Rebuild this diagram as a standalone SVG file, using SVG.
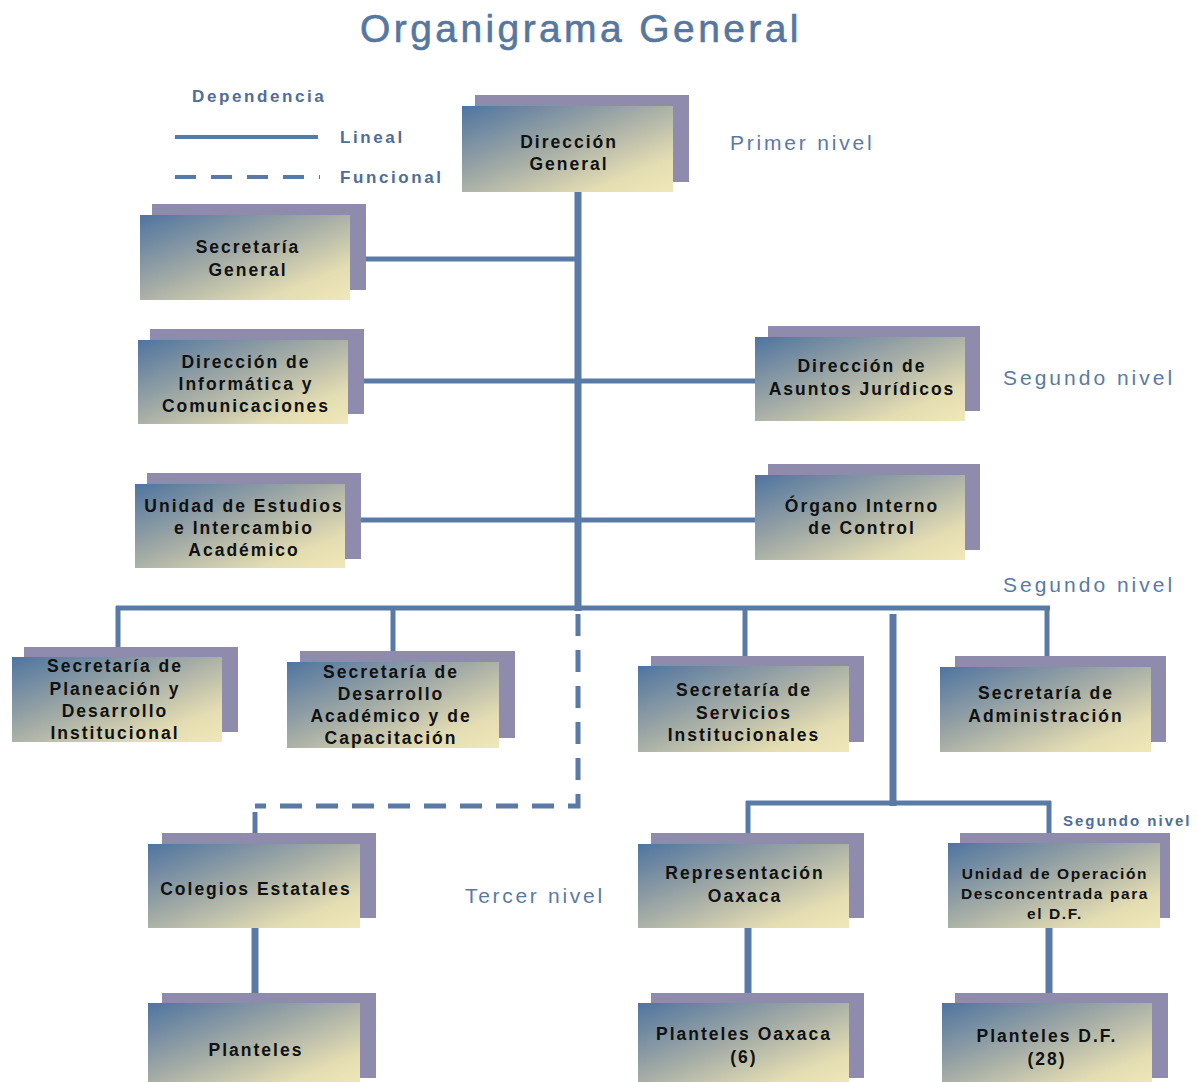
<svg xmlns="http://www.w3.org/2000/svg" width="1198" height="1082" viewBox="0 0 1198 1082">
<defs>
<linearGradient id="g" x1="0" y1="0" x2="1" y2="1">
<stop offset="0" stop-color="#4f74a0"/>
<stop offset="0.45" stop-color="#a3aba6"/>
<stop offset="0.8" stop-color="#e4ddb3"/>
<stop offset="1" stop-color="#f0e8b8"/>
</linearGradient>
<style>
.bk{fill:#8f8bad}
.fr{fill:url(#g)}
.t{font-family:"Liberation Sans",Arial,sans-serif;font-weight:bold;font-size:17.5px;letter-spacing:2px;fill:#111;text-anchor:middle}
.ts{font-size:15.5px;letter-spacing:1.6px}
.ln{stroke:#5a7aa6;stroke-width:5;fill:none}
.lv{stroke:#5a7aa6;stroke-width:7;fill:none}
.da{stroke:#5a7aa6;stroke-width:5;fill:none;stroke-dasharray:22 14}
.lvl{font-family:"Liberation Sans",Arial,sans-serif;font-size:21px;fill:#5a7aa4}
.lg{font-family:"Liberation Sans",Arial,sans-serif;font-weight:bold;font-size:17px;fill:#4f6d96;letter-spacing:2.6px}
</style>
</defs>
<rect width="1198" height="1082" fill="#ffffff"/>
<text x="581" y="42" font-family="Liberation Sans,Arial,sans-serif" font-size="39" letter-spacing="3.4" fill="#5577a0" stroke="#5577a0" stroke-width="0.6" text-anchor="middle">Organigrama General</text>

<g id="legend">
<text class="lg" x="192" y="102">Dependencia</text>
<line x1="175" y1="137" x2="318" y2="137" stroke="#5a7aa6" stroke-width="4"/>
<text class="lg" x="340" y="143">Lineal</text>
<line x1="175" y1="177" x2="320" y2="177" stroke="#5a7aa6" stroke-width="4" stroke-dasharray="21 15"/>
<text class="lg" x="340" y="183">Funcional</text>
</g>

<g id="levels">
<text class="lvl" x="730" y="150" letter-spacing="2.8">Primer nivel</text>
<text class="lvl" x="1003" y="385" letter-spacing="3">Segundo nivel</text>
<text class="lvl" x="1003" y="592" letter-spacing="3">Segundo nivel</text>
<text class="lvl" x="465" y="903" letter-spacing="2.7">Tercer nivel</text>
<text x="1063" y="826" font-family="Liberation Sans,Arial,sans-serif" font-weight="bold" font-size="15" letter-spacing="2" fill="#4f6d96">Segundo nivel</text>
</g>

<g id="connectors">
<line class="lv" x1="578" y1="192" x2="578" y2="611"/>
<line class="ln" x1="364" y1="259" x2="578" y2="259"/>
<line class="ln" x1="362" y1="381" x2="756" y2="381"/>
<line class="ln" x1="358" y1="520" x2="756" y2="520"/>
<line class="ln" x1="116" y1="608" x2="1050" y2="608"/>
<line class="ln" x1="118" y1="606" x2="118" y2="648"/>
<line class="ln" x1="393" y1="606" x2="393" y2="652"/>
<line class="ln" x1="745" y1="606" x2="745" y2="657"/>
<line class="ln" x1="1047" y1="606" x2="1047" y2="657"/>
<line class="lv" x1="893" y1="614" x2="893" y2="806"/>
<line class="ln" x1="746" y1="803" x2="1051" y2="803"/>
<line class="ln" x1="748" y1="801" x2="748" y2="834"/>
<line class="ln" x1="1049" y1="801" x2="1049" y2="834"/>
<path class="da" d="M578 614 L578 806 L255 806"/>
<line class="ln" x1="255" y1="812" x2="255" y2="834"/>
<line class="lv" x1="255" y1="928" x2="255" y2="994"/>
<line class="lv" x1="748" y1="928" x2="748" y2="994"/>
<line class="lv" x1="1049" y1="928" x2="1049" y2="994"/>
</g>

<g id="direccion-general">
<rect class="bk" x="475" y="95" width="214" height="87"/>
<rect class="fr" x="462" y="106" width="211" height="86"/>
<text class="t" x="569" y="148">Dirección</text>
<text class="t" x="569" y="170">General</text>
</g>

<g id="secretaria-general">
<rect class="bk" x="152" y="204" width="214" height="86"/>
<rect class="fr" x="140" y="215" width="210" height="85"/>
<text class="t" x="248" y="253">Secretaría</text>
<text class="t" x="248" y="276">General</text>
</g>

<g id="informatica">
<rect class="bk" x="150" y="329" width="214" height="85"/>
<rect class="fr" x="138" y="340" width="210" height="84"/>
<text class="t" x="246" y="368">Dirección de</text>
<text class="t" x="246" y="390">Informática y</text>
<text class="t" x="246" y="412">Comunicaciones</text>
</g>

<g id="estudios">
<rect class="bk" x="147" y="473" width="214" height="86"/>
<rect class="fr" x="135" y="484" width="210" height="84"/>
<text class="t" x="244" y="512">Unidad de Estudios</text>
<text class="t" x="244" y="534">e Intercambio</text>
<text class="t" x="244" y="556">Académico</text>
</g>

<g id="juridicos">
<rect class="bk" x="768" y="326" width="212" height="85"/>
<rect class="fr" x="755" y="337" width="210" height="84"/>
<text class="t" x="862" y="372">Dirección de</text>
<text class="t" x="862" y="395">Asuntos Jurídicos</text>
</g>

<g id="organo-interno">
<rect class="bk" x="768" y="464" width="212" height="86"/>
<rect class="fr" x="755" y="475" width="210" height="85"/>
<text class="t" x="862" y="512">Órgano Interno</text>
<text class="t" x="862" y="534">de Control</text>
</g>

<g id="planeacion">
<rect class="bk" x="24" y="647" width="214" height="85"/>
<rect class="fr" x="12" y="657" width="210" height="85"/>
<text class="t" x="115" y="672">Secretaría de</text>
<text class="t" x="115" y="695">Planeación y</text>
<text class="t" x="115" y="717">Desarrollo</text>
<text class="t" x="115" y="739">Institucional</text>
</g>

<g id="desarrollo-academico">
<rect class="bk" x="300" y="651" width="215" height="87"/>
<rect class="fr" x="287" y="662" width="212" height="86"/>
<text class="t" x="391" y="678">Secretaría de</text>
<text class="t" x="391" y="700">Desarrollo</text>
<text class="t" x="391" y="722">Académico y de</text>
<text class="t" x="391" y="744">Capacitación</text>
</g>

<g id="servicios">
<rect class="bk" x="651" y="656" width="213" height="86"/>
<rect class="fr" x="638" y="666" width="211" height="86"/>
<text class="t" x="744" y="696">Secretaría de</text>
<text class="t" x="744" y="719">Servicios</text>
<text class="t" x="744" y="741">Institucionales</text>
</g>

<g id="administracion">
<rect class="bk" x="955" y="656" width="211" height="86"/>
<rect class="fr" x="940" y="667" width="211" height="85"/>
<text class="t" x="1046" y="699">Secretaría de</text>
<text class="t" x="1046" y="722">Administración</text>
</g>

<g id="colegios">
<rect class="bk" x="162" y="833" width="214" height="85"/>
<rect class="fr" x="148" y="844" width="212" height="84"/>
<text class="t" x="256" y="895">Colegios Estatales</text>
</g>

<g id="oaxaca">
<rect class="bk" x="651" y="833" width="213" height="85"/>
<rect class="fr" x="638" y="844" width="211" height="84"/>
<text class="t" x="745" y="879">Representación</text>
<text class="t" x="745" y="902">Oaxaca</text>
</g>

<g id="operacion-df">
<rect class="bk" x="960" y="833" width="210" height="85"/>
<rect class="fr" x="948" y="843" width="212" height="85"/>
<text class="t ts" x="1055" y="879">Unidad de Operación</text>
<text class="t ts" x="1055" y="899">Desconcentrada para</text>
<text class="t ts" x="1055" y="919">el D.F.</text>
</g>

<g id="planteles">
<rect class="bk" x="162" y="993" width="214" height="85"/>
<rect class="fr" x="148" y="1003" width="212" height="84"/>
<text class="t" x="256" y="1056">Planteles</text>
</g>

<g id="planteles-oaxaca">
<rect class="bk" x="651" y="993" width="213" height="85"/>
<rect class="fr" x="638" y="1003" width="211" height="84"/>
<text class="t" x="744" y="1040">Planteles Oaxaca</text>
<text class="t" x="744" y="1063">(6)</text>
</g>

<g id="planteles-df">
<rect class="bk" x="955" y="993" width="213" height="85"/>
<rect class="fr" x="942" y="1003" width="210" height="84"/>
<text class="t" x="1047" y="1042">Planteles D.F.</text>
<text class="t" x="1047" y="1065">(28)</text>
</g>
</svg>
